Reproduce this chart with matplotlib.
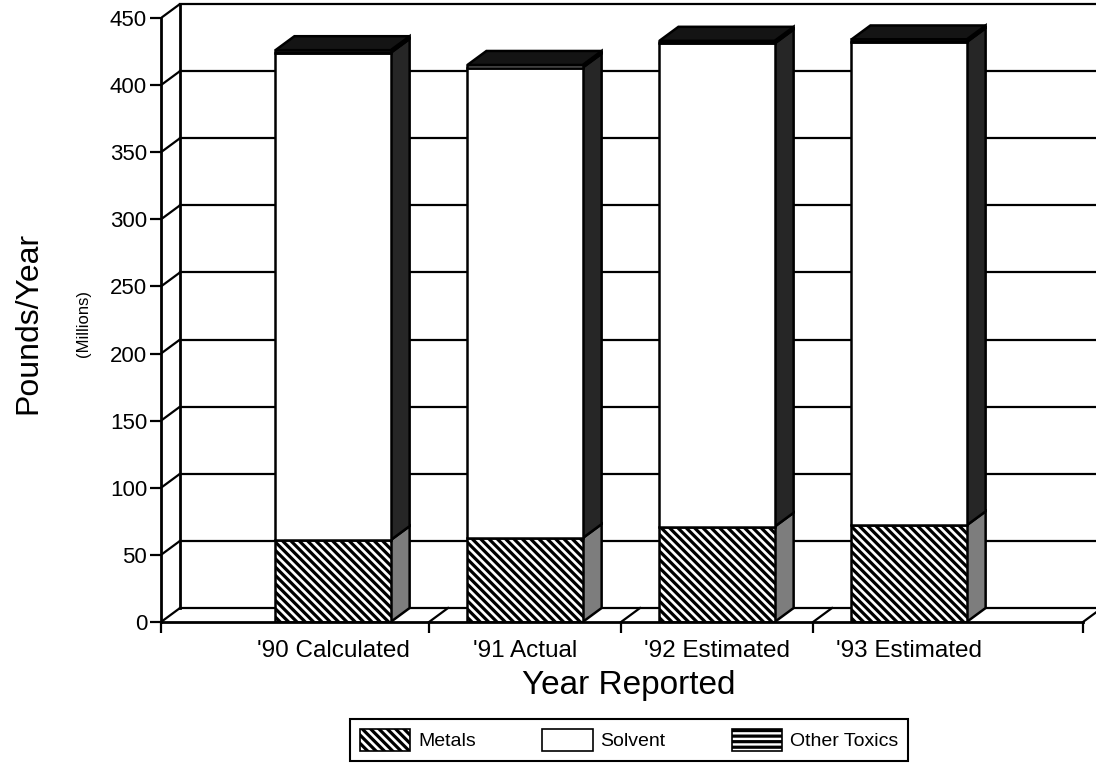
import matplotlib
matplotlib.use("Agg")
import matplotlib.pyplot as plt
from matplotlib.patches import Polygon, Patch
import numpy as np

plt.rcParams['font.family'] = ['Liberation Sans', 'DejaVu Sans']
plt.rcParams['hatch.linewidth'] = 2.3

# Toxic chemical releases, millions of pounds per year
categories = ["'90 Calculated", "'91 Actual", "'92 Estimated", "'93 Estimated"]
metals = [61.0, 62.5, 71.0, 72.0]
solvent = [363.0, 350.5, 360.0, 360.0]
other_toxics = [2.0, 2.0, 2.0, 2.0]
y_ticks = [0, 50, 100, 150, 200, 250, 300, 350, 400, 450]
legend_labels = ["Metals", "Solvent", "Other Toxics"]

W, H = 1096, 780
fig = plt.figure(figsize=(W / 100, H / 100), dpi=100)
ax = fig.add_axes([161 / W, 158 / H, 1 - 161 / W, 622 / H])

x_left, x_right = -0.896, 3.906   # extent of the floor
dx, dy = 0.099, 10.43             # depth offset of the back wall
bar_w = 0.6
lw = 1.8
metal_hatch = '\\\\\\\\'

ax.set_xlim(x_left, x_left + 935 / 192)
ax.set_ylim(0, 463.4)

# back wall gridlines and left wall connectors
for v in y_ticks:
    ax.plot([x_left, x_left + dx], [v, v + dy], color='black', lw=1.6, zorder=1,
            solid_capstyle='butt')
    ax.plot([x_left + dx, x_right + dx], [v + dy, v + dy], color='black', lw=1.6,
            zorder=1, clip_on=False)
ax.plot([x_left + dx, x_left + dx], [dy, y_ticks[-1] + dy], color='black', lw=2, zorder=1)

# floor dividers between categories
for b in [0.5, 1.5, 2.5, x_right]:
    ax.plot([b, b + dx], [0, dy], color='black', lw=1.6, zorder=1, clip_on=False)

x = np.arange(len(categories))
metals_a = np.array(metals)
solvent_a = np.array(solvent)
other_a = np.array(other_toxics)

ax.bar(x, metals_a, bar_w, facecolor='white', edgecolor='black', hatch=metal_hatch,
       lw=lw, zorder=3)
ax.bar(x, solvent_a, bar_w, bottom=metals_a, facecolor='white', edgecolor='black',
       lw=lw, zorder=3)
ax.bar(x, other_a, bar_w, bottom=metals_a + solvent_a, facecolor='white',
       edgecolor='black', hatch='---', lw=lw, zorder=3)

# side and top faces of each column
side_colors = ['#7d7d7d', '#262626', '#141414']
for i in range(len(x)):
    xl, xr = x[i] - bar_w / 2, x[i] + bar_w / 2
    bottoms = [0, metals_a[i], metals_a[i] + solvent_a[i]]
    heights = [metals_a[i], solvent_a[i], other_a[i]]
    for b, h, c in zip(bottoms, heights, side_colors):
        ax.add_patch(Polygon([(xr, b), (xr + dx, b + dy), (xr + dx, b + h + dy), (xr, b + h)],
                             closed=True, facecolor=c, edgecolor='black', lw=lw, zorder=2.9))
    top = bottoms[-1] + heights[-1]
    ax.add_patch(Polygon([(xl, top), (xl + dx, top + dy), (xr + dx, top + dy), (xr, top)],
                         closed=True, facecolor='#141414', edgecolor='black', lw=lw, zorder=2.9))

for s in ['top', 'right']:
    ax.spines[s].set_visible(False)
ax.spines['left'].set_bounds(0, y_ticks[-1])
ax.spines['bottom'].set_bounds(x_left, x_right)
ax.spines['left'].set_linewidth(2)
ax.spines['bottom'].set_linewidth(2)
ax.spines['left'].set_zorder(4)
ax.spines['bottom'].set_zorder(4)

ax.set_yticks(y_ticks)
ax.tick_params(axis='y', length=8, width=1.6, pad=2, labelsize=16)
ax.set_xticks(x, categories)
ax.set_xticks([x_left, 0.5, 1.5, 2.5, x_right], minor=True)
ax.tick_params(axis='x', which='major', length=0, pad=13, labelsize=17.5)
ax.tick_params(axis='x', which='minor', length=8, width=1.6)
ax.set_xlabel('Year Reported', fontsize=24, labelpad=6)

fig.text(28 / W, 1 - 323 / H, 'Pounds/Year', rotation=90, fontsize=23,
         ha='center', va='center')
fig.text(83 / W, 1 - 323 / H, '(Millions)', rotation=90, fontsize=12,
         ha='center', va='center')

handles = [
    Patch(facecolor='white', edgecolor='black', hatch=metal_hatch, lw=1.2),
    Patch(facecolor='white', edgecolor='black', lw=1.2),
    Patch(facecolor='white', edgecolor='black', hatch='---', lw=1.2),
]
leg = fig.legend(handles, legend_labels, loc='center', ncol=3,
                 bbox_to_anchor=(629 / W, 1 - 740 / H), fontsize=14,
                 handlelength=2.6, handleheight=1.4, columnspacing=3.4,
                 handletextpad=0.4, borderpad=0.5, fancybox=False, framealpha=1)
leg.get_frame().set_edgecolor('black')
leg.get_frame().set_linewidth(1.5)

fig.savefig('out.png', dpi=100)
